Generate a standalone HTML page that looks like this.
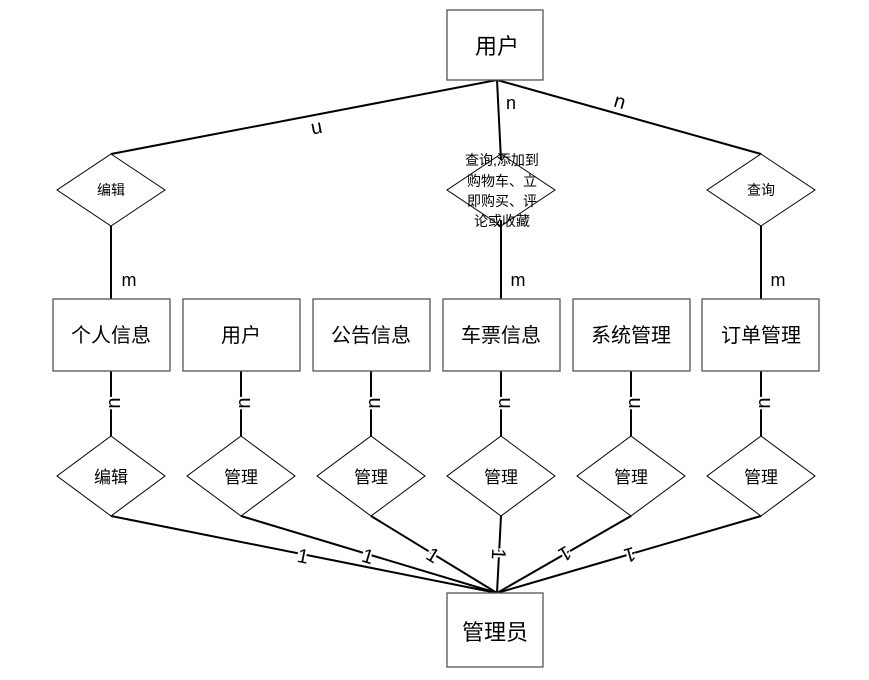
<!DOCTYPE html>
<html><head><meta charset="utf-8"><style>
body{margin:0;background:#fff}
text{font-family:"Liberation Sans","Noto Sans CJK SC",sans-serif;fill:#000}
</style></head><body>
<svg width="869" height="675" xmlns="http://www.w3.org/2000/svg">
<g stroke="#000" stroke-width="2" fill="none">
<line x1="497" y1="80" x2="111" y2="154"/>
<line x1="497" y1="80" x2="501" y2="160"/>
<line x1="497" y1="80" x2="761" y2="154"/>
<line x1="111" y1="226" x2="111" y2="299"/>
<line x1="501" y1="220" x2="501" y2="299"/>
<line x1="761" y1="226" x2="761" y2="299"/>
<line x1="111" y1="371" x2="111" y2="436"/>
<line x1="241" y1="371" x2="241" y2="436"/>
<line x1="371" y1="371" x2="371" y2="436"/>
<line x1="501" y1="371" x2="501" y2="436"/>
<line x1="631" y1="371" x2="631" y2="436"/>
<line x1="761" y1="371" x2="761" y2="436"/>
<line x1="111" y1="516" x2="497" y2="593"/>
<line x1="241" y1="516" x2="497" y2="593"/>
<line x1="371" y1="516" x2="497" y2="593"/>
<line x1="501" y1="516" x2="497" y2="593"/>
<line x1="631" y1="516" x2="497" y2="593"/>
<line x1="761" y1="516" x2="497" y2="593"/>
</g>
<g stroke="#555" stroke-width="1.3" fill="#fff">
<rect x="447" y="10" width="96" height="70"/>
<rect x="447" y="593" width="96" height="74"/>
<rect x="53" y="299" width="117" height="72"/>
<rect x="183" y="299" width="117" height="72"/>
<rect x="313" y="299" width="117" height="72"/>
<rect x="443" y="299" width="117" height="72"/>
<rect x="573" y="299" width="117" height="72"/>
<rect x="702" y="299" width="117" height="72"/>
</g>
<g stroke="#000" stroke-width="1" fill="#fff">
<polygon points="111,154 165,190 111,226 57,190"/>
<polygon points="501,154 555,190 501,226 447,190" fill="none"/>
<polygon points="761,154 815,190 761,226 707,190"/>
<polygon points="111,436 165,476 111,516 57,476"/>
<polygon points="241,436 295,476 241,516 187,476"/>
<polygon points="371,436 425,476 371,516 317,476"/>
<polygon points="501,436 555,476 501,516 447,476"/>
<polygon points="631,436 685,476 631,516 577,476"/>
<polygon points="761,436 815,476 761,516 707,476"/>
</g>
<g text-anchor="middle">
<text x="497" y="54" font-size="22">用户</text>
<text x="495" y="640" font-size="22">管理员</text>
<text x="111" y="342" font-size="20">个人信息</text>
<text x="241" y="342" font-size="20">用户</text>
<text x="371" y="342" font-size="20">公告信息</text>
<text x="501" y="342" font-size="20">车票信息</text>
<text x="631" y="342" font-size="20">系统管理</text>
<text x="761" y="342" font-size="20">订单管理</text>
<text x="111" y="195" font-size="14">编辑</text>
<text x="761" y="195" font-size="14">查询</text>
<g font-size="14">
<text x="502" y="165">查询,添加到</text>
<text x="502" y="186">购物车、立</text>
<text x="502" y="206">即购买、评</text>
<text x="502" y="226">论或收藏</text>
</g>
<g font-size="17">
<text x="111" y="483">编辑</text>
<text x="241" y="483">管理</text>
<text x="371" y="483">管理</text>
<text x="501" y="483">管理</text>
<text x="631" y="483">管理</text>
<text x="761" y="483">管理</text>
</g>
<g font-size="18">
<text x="129" y="286">m</text>
<text x="518" y="286">m</text>
<text x="778" y="286">m</text>
<text x="511" y="109">n</text>
</g>
<g font-size="20" stroke="#fff" stroke-width="4" paint-order="stroke">
<text transform="translate(317,130) rotate(169)" y="7">n</text>
<text transform="translate(620,101) rotate(16)" y="7">n</text>
<text transform="translate(113,403) rotate(-90)" y="7">n</text>
<text transform="translate(243,403) rotate(-90)" y="7">n</text>
<text transform="translate(373,403) rotate(-90)" y="7">n</text>
<text transform="translate(503,403) rotate(-90)" y="7">n</text>
<text transform="translate(633,403) rotate(-90)" y="7">n</text>
<text transform="translate(763,403) rotate(-90)" y="7">n</text>
<text transform="translate(303,556) rotate(11)" y="7">1</text>
<text transform="translate(368,556) rotate(17)" y="7">1</text>
<text transform="translate(433,555) rotate(31)" y="7">1</text>
<text transform="translate(499,554) rotate(93)" y="7">1</text>
<text transform="translate(565,554) rotate(150)" y="7">1</text>
<text transform="translate(630,555) rotate(164)" y="7">1</text>
</g>
</g>
</svg>
</body></html>
